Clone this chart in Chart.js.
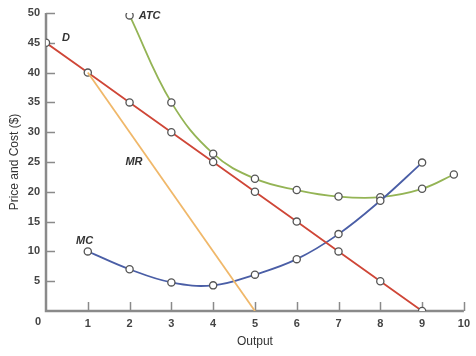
<!DOCTYPE html>
<html><head><meta charset="utf-8">
<script src="https://cdn.jsdelivr.net/npm/chart.js@4/dist/chart.umd.min.js"></script>
<style>html,body{margin:0;padding:0;background:#fff}#wrap{width:476px;height:356px}</style>
</head><body><div id="wrap"><canvas id="c" width="476" height="356"></canvas></div>
<script>
const xTicks = [0,1,2,3,4,5,6,7,8,9,10];
const yTicks = [0,5,10,15,20,25,30,35,40,45,50];
const demandQ = [0,1,2,3,4,5,6,7,8,9];
const demandP = [45,40,35,30,25,20,15,10,5,0];
const mrQ = [1,5];
const mrP = [40,0];
const mcQ = [1,2,3,4,5,6,7,8,9];
const mcP = [10,7,4.8,4.3,6.1,8.7,12.9,18.5,24.9];
const atcQ = [2,3,4,5,6,7,8,9,9.76];
const atcP = [49.6,35,26.4,22.2,20.3,19.2,19.1,20.5,22.9];
const curveLabels = [
  {text:'D', x:0.38, y:45.8},
  {text:'ATC', x:2.22, y:49.5},
  {text:'MR', x:1.9, y:25},
  {text:'MC', x:0.72, y:11.7}
];
const pts = (xs, ys) => xs.map((x,i)=>({x:x,y:ys[i]}));
const FONT = '"Liberation Sans Narrow","Liberation Sans",Arial,sans-serif';
const AX = '#8a8a8a';
const marker = {pointRadius:3.6, pointBackgroundColor:'#fff', pointBorderColor:'#555', pointBorderWidth:1.3, pointHoverRadius:3.6};

const overlay = {
  id:'overlay',
  beforeDatasetsDraw(chart){
    const {ctx, scales:{x,y}} = chart;
    ctx.save();
    ctx.strokeStyle = AX; ctx.lineWidth = 1.5;
    const y0 = y.getPixelForValue(0), x0 = x.getPixelForValue(0);
    xTicks.forEach(v=>{ if(v===0) return; const px = Math.round(x.getPixelForValue(v))+0.5;
      ctx.beginPath(); ctx.moveTo(px,y0); ctx.lineTo(px,y0-9); ctx.stroke(); });
    yTicks.forEach(v=>{ if(v===0) return; const py = Math.round(y.getPixelForValue(v))+0.5;
      ctx.beginPath(); ctx.moveTo(x0,py); ctx.lineTo(x0+9,py); ctx.stroke(); });
    ctx.lineWidth = 2.5;
    ctx.beginPath(); ctx.moveTo(x0, y.getPixelForValue(50)); ctx.lineTo(x0, y0); ctx.lineTo(x.getPixelForValue(10), y0); ctx.stroke();
    ctx.restore();
  },
  afterDatasetsDraw(chart){
    const {ctx, scales:{x,y}} = chart;
    ctx.save();
    ctx.fillStyle = '#333';
    ctx.font = 'italic bold 11px ' + FONT;
    ctx.textAlign = 'left'; ctx.textBaseline = 'middle';
    curveLabels.forEach(l=>ctx.fillText(l.text, x.getPixelForValue(l.x), y.getPixelForValue(l.y)));
    ctx.font = 'bold 11px ' + FONT;
    ctx.fillStyle = '#444';
    ctx.textAlign = 'center'; ctx.textBaseline = 'top';
    ctx.fillText('0', x.getPixelForValue(0)-8, y.getPixelForValue(0)+5);
    ctx.restore();
  }
};

new Chart(document.getElementById('c'), {
  type:'line',
  data:{datasets:[
    {label:'MR', data:pts(mrQ,mrP), borderColor:'#f0b86a', borderWidth:1.8, pointRadius:0, tension:0},
    {label:'D', data:pts(demandQ,demandP), borderColor:'#cf4637', borderWidth:1.8, tension:0, ...marker},
    {label:'MC', data:pts(mcQ,mcP), borderColor:'#4a5ea6', borderWidth:1.8, tension:0.4, ...marker},
    {label:'ATC', data:pts(atcQ,atcP), borderColor:'#94b455', borderWidth:1.8, tension:0.4, ...marker}
  ]},
  options:{
    responsive:false, animation:false,
    layout:{padding:{left:0, right:12, top:13, bottom:0}},
    plugins:{legend:{display:false}, tooltip:{enabled:false}},
    scales:{
      x:{type:'linear', min:0, max:10,
        afterBuildTicks(s){ s.ticks = xTicks.map(v=>({value:v})); },
        afterFit(s){ s.height = 45; },
        border:{display:false}, grid:{display:false, drawTicks:false, tickLength:0},
        ticks:{padding:6, color:'#444', font:{family:FONT, size:11, weight:'bold'}, maxRotation:0,
          callback:v=> v===0 ? '' : String(v)},
        title:{display:true, text:'Output', color:'#333', font:{family:FONT, size:12}, padding:{top:2, bottom:7}}
      },
      y:{type:'linear', min:0, max:50,
        afterBuildTicks(s){ s.ticks = yTicks.map(v=>({value:v})); },
        afterFit(s){ s.width = 46; },
        border:{display:false}, grid:{display:false, drawTicks:false, tickLength:0},
        ticks:{padding:6, color:'#444', font:{family:FONT, size:11, weight:'bold'},
          callback:v=> v===0 ? '' : String(v)},
        title:{display:true, text:'Price and Cost ($)', color:'#333', font:{family:FONT, size:12}, padding:{top:7, bottom:0}}
      }
    }
  },
  plugins:[overlay]
});
</script></body></html>
